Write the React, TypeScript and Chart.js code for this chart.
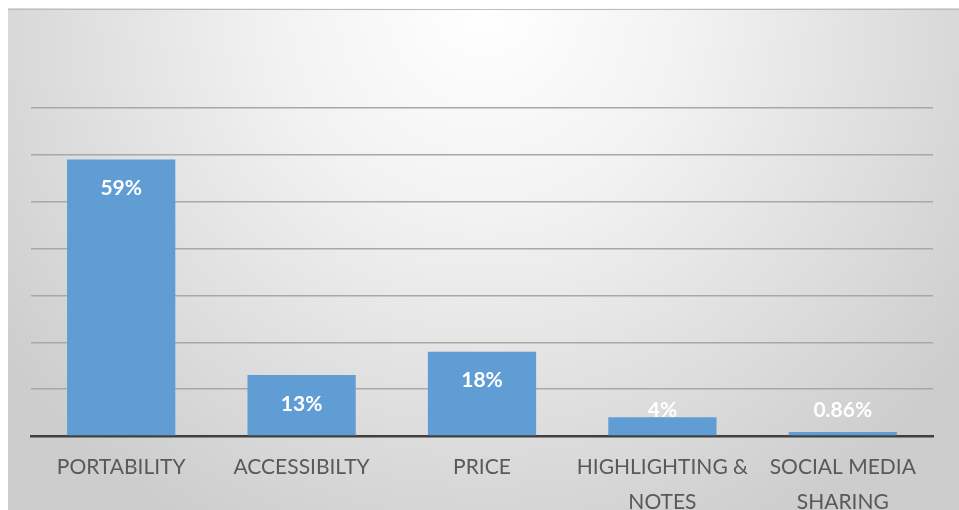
import React, { useEffect, useRef } from "react";
import { Chart, registerables } from "chart.js";

Chart.register(...registerables);

const categories: (string | string[])[] = [
  "PORTABILITY",
  "ACCESSIBILTY",
  "PRICE",
  ["HIGHLIGHTING &", "NOTES"],
  ["SOCIAL MEDIA", "SHARING"],
];
const shares: number[] = [0.59, 0.13, 0.18, 0.04, 0.0086];
const valueLabels: string[] = ["59%", "13%", "18%", "4%", "0.86%"];

const W = 951;
const H = 530;

const backgroundPlugin = {
  id: "bgGradient",
  beforeDraw(chart: any) {
    const { ctx, width, height } = chart;
    ctx.save();
    const g = ctx.createRadialGradient(width * 0.5, 0, 0, width * 0.5, 0, width * 0.62);
    g.addColorStop(0, "#ffffff");
    g.addColorStop(0.35, "#f2f2f2");
    g.addColorStop(1, "#cdcdcd");
    ctx.fillStyle = g;
    ctx.fillRect(0, 0, width, height);
    ctx.strokeStyle = "#bdbdbd";
    ctx.lineWidth = 1;
    ctx.beginPath();
    ctx.moveTo(0, 1.5);
    ctx.lineTo(width, 1.5);
    ctx.stroke();
    ctx.restore();
  },
};

const valueLabelPlugin = {
  id: "valueLabels",
  afterDatasetsDraw(chart: any) {
    const { ctx } = chart;
    const meta = chart.getDatasetMeta(0);
    ctx.save();
    ctx.fillStyle = "#ffffff";
    ctx.font = "bold 21px Lato";
    ctx.textAlign = "center";
    ctx.textBaseline = "middle";
    meta.data.forEach((bar: any, i: number) => {
      const y = Math.min(bar.y + 29, bar.base - 25);
      ctx.fillText(valueLabels[i], bar.x, y);
    });
    ctx.restore();
  },
};

export default function App() {
  const ref = useRef<HTMLCanvasElement | null>(null);
  useEffect(() => {
    document.documentElement.style.overflow = "hidden";
    document.body.style.overflow = "hidden";
    const chart = new Chart(ref.current as HTMLCanvasElement, {
      type: "bar",
      data: {
        labels: categories,
        datasets: [
          {
            data: shares,
            backgroundColor: "#619dd5",
            borderWidth: 0,
            categoryPercentage: 0.6,
            barPercentage: 1,
          },
        ],
      },
      options: {
        animation: false,
        responsive: false,
        layout: { padding: { left: 23, right: 26, top: 100, bottom: 12 } },
        plugins: { legend: { display: false }, tooltip: { enabled: false } },
        scales: {
          x: {
            grid: { display: false, drawTicks: false },
            border: { display: true, color: "#404040", width: 2.5 },
            ticks: {
              color: "#595959",
              font: { family: "Lato", size: 21, lineHeight: 1.65 },
              padding: 14,
              maxRotation: 0,
              autoSkip: false,
            },
            afterFit(scale: any) {
              scale.height = 90;
            },
          },
          y: {
            min: 0,
            max: 0.7,
            ticks: { display: false, stepSize: 0.1 },
            grid: { color: "#a8a8a8", lineWidth: 1.5, drawTicks: false },
            border: { display: false },
          },
        },
      },
      plugins: [backgroundPlugin, valueLabelPlugin],
    });
    return () => chart.destroy();
  }, []);
  return (
    <div style={{ position: "absolute", left: 8, top: 8, width: W, height: H }}>
      <canvas
        ref={ref}
        width={W}
        height={H}
        style={{ display: "block", width: W + "px", height: H + "px" }}
      />
    </div>
  );
}
